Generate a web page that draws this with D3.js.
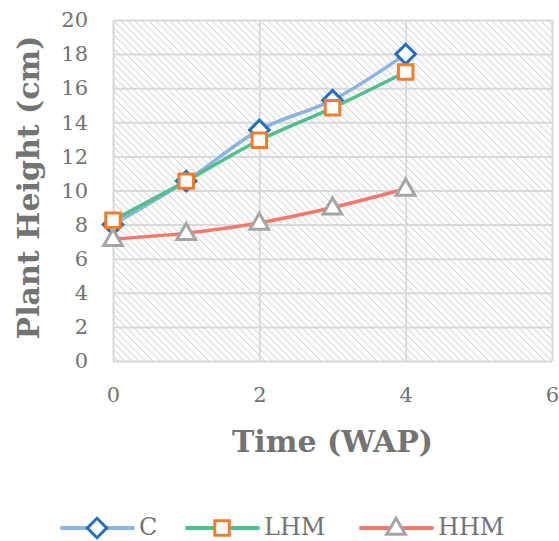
<!DOCTYPE html>
<html>
<head>
<meta charset="utf-8">
<script src="https://cdn.jsdelivr.net/npm/d3@7"></script>
<style>
  body { margin: 0; background: #fff; }
</style>
</head>
<body>
<div id="chart"></div>
<script>
const svgWidth = 559;
const svgHeight = 541;
const margin = {top: 20, right: 7, bottom: 180, left: 113};

const width = svgWidth - margin.left - margin.right;
const height = svgHeight - margin.top - margin.bottom;

// data
const weeks = [0, 1, 2, 3, 4];
const seriesNames = ["C", "LHM", "HHM"];
const cHeight = [8.0, 10.55, 13.55, 15.3, 18.0];
const lhmHeight = [8.25, 10.55, 12.95, 14.85, 16.95];
const hhmHeight = [7.15, 7.5, 8.1, 9.0, 10.1];
const xTicks = [0, 2, 4, 6];
const yTicks = [0, 2, 4, 6, 8, 10, 12, 14, 16, 18, 20];

const font = "'DejaVu Serif', Georgia, serif";
const textColor = "#737373";

const series = [
    {name: seriesNames[0], values: cHeight, line: "#8DB3E2", marker: "#1F6FC0", shape: "diamond"},
    {name: seriesNames[1], values: lhmHeight, line: "#4FC08D", marker: "#ED7D31", shape: "square"},
    {name: seriesNames[2], values: hhmHeight, line: "#F4776E", marker: "#A5A5A5", shape: "triangle"}
];

const x = d3.scaleLinear().domain([0, 6]).range([0, width]);
const y = d3.scaleLinear().domain([0, 20]).range([height, 0]);

const svg = d3.select("#chart")
    .append("svg")
    .attr("width", svgWidth)
    .attr("height", svgHeight);

const defs = svg.append("defs");
const pat = defs.append("pattern")
    .attr("id", "hatch")
    .attr("patternUnits", "userSpaceOnUse")
    .attr("width", 7)
    .attr("height", 7);
pat.append("rect").attr("width", 7).attr("height", 7).attr("fill", "#fff");
pat.append("path")
    .attr("d", "M0,0 L7,7 M-1,6 L1,8 M6,-1 L8,1")
    .attr("stroke", "#dadada")
    .attr("stroke-width", 1.2);

const g = svg.append("g")
    .attr("transform", `translate(${margin.left},${margin.top})`);

g.append("rect")
    .attr("width", width)
    .attr("height", height)
    .attr("fill", "url(#hatch)");

// gridlines
g.append("g")
    .call(d3.axisLeft(y).tickValues(yTicks).tickSize(-width).tickFormat(""))
    .call(s => s.select(".domain").remove())
    .selectAll("line")
    .attr("stroke", "#d9d9d9")
    .attr("stroke-width", 2);

g.append("g")
    .attr("transform", `translate(0,${height})`)
    .call(d3.axisBottom(x).tickValues(xTicks).tickSize(-height).tickFormat(""))
    .call(s => s.select(".domain").remove())
    .selectAll("line")
    .attr("stroke", "#d9d9d9")
    .attr("stroke-width", 2);

// tick labels
g.append("g")
    .call(d3.axisLeft(y).tickValues(yTicks).tickSize(0).tickPadding(25).tickFormat(d3.format("d")))
    .call(s => s.select(".domain").remove())
    .selectAll("text")
    .attr("font-family", font)
    .attr("font-size", 21)
    .attr("fill", textColor);

g.append("g")
    .attr("transform", `translate(0,${height})`)
    .call(d3.axisBottom(x).tickValues(xTicks).tickSize(0).tickPadding(26).tickFormat(d3.format("d")))
    .call(s => s.select(".domain").remove())
    .selectAll("text")
    .attr("font-family", font)
    .attr("font-size", 21)
    .attr("fill", textColor);

// axis titles
svg.append("text")
    .attr("x", margin.left + width / 2)
    .attr("y", 452)
    .attr("text-anchor", "middle")
    .attr("font-family", font)
    .attr("font-weight", "bold")
    .attr("font-size", 30)
    .attr("fill", textColor)
    .text("Time (WAP)");

svg.append("text")
    .attr("transform", `translate(39,${margin.top + height / 2 - 3}) rotate(-90)`)
    .attr("text-anchor", "middle")
    .attr("font-family", font)
    .attr("font-weight", "bold")
    .attr("font-size", 30)
    .attr("fill", textColor)
    .text("Plant Height (cm)");

const line = d3.line()
    .x((_, i) => x(weeks[i]))
    .y(d => y(d))
    .curve(d3.curveCatmullRom.alpha(0.5));

const shapes = {
    diamond: d3.symbol(d3.symbolSquare, 190),
    square: d3.symbol(d3.symbolSquare, 210),
    triangle: d3.symbol(d3.symbolTriangle, 150)
};

function drawMarker(sel, s, cx, cy) {
    sel.append("path")
        .attr("d", shapes[s.shape]())
        .attr("transform", `translate(${cx},${cy})` + (s.shape === "diamond" ? " rotate(45)" : "") + (s.shape === "triangle" ? " translate(0,1)" : ""))
        .attr("fill", "#fff")
        .attr("stroke", s.marker)
        .attr("stroke-width", 3)
        .attr("stroke-linejoin", "miter");
}

series.forEach(s => {
    g.append("path")
        .datum(s.values)
        .attr("d", line)
        .attr("fill", "none")
        .attr("stroke", s.line)
        .attr("stroke-width", 3.5)
        .attr("stroke-linecap", "round");
    s.values.forEach((v, i) => drawMarker(g, s, x(weeks[i]), y(v)));
});

// legend
const legendX = [62, 187, 361];
const legendY = 528;
const legend = svg.append("g");
series.forEach((s, i) => {
    const lx = legendX[i];
    legend.append("line")
        .attr("x1", lx).attr("x2", lx + 71)
        .attr("y1", legendY).attr("y2", legendY)
        .attr("stroke", s.line)
        .attr("stroke-width", 4)
        .attr("stroke-linecap", "round");
    drawMarker(legend, s, lx + 35, legendY);
    legend.append("text")
        .attr("x", lx + 77)
        .attr("y", legendY + 7)
        .attr("font-family", font)
        .attr("font-size", 24)
        .attr("fill", textColor)
        .text(s.name);
});
</script>
</body>
</html>
